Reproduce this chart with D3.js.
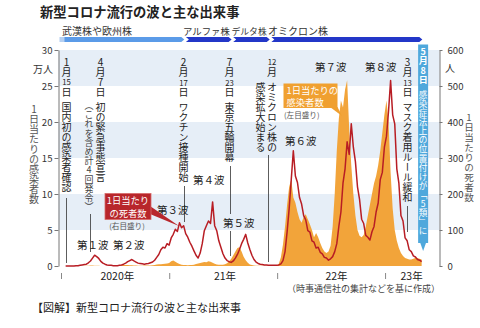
<!DOCTYPE html>
<html><head><meta charset="utf-8">
<script src="https://cdn.jsdelivr.net/npm/d3@7"></script>
<style>
html,body{margin:0;padding:0;background:#fff;}
svg{display:block;font-family:'Noto Sans CJK JP','Noto Sans',sans-serif;}
.vt{writing-mode:vertical-rl;}
.vtu{writing-mode:vertical-rl;text-orientation:upright;}
</style></head><body>
<svg id="c" width="480" height="328"></svg>
<script>
// ---------------- data ----------------
const weekStart = "2020-01-15";           // first weekly sample
// daily new cases (万人), one value per week
const cases = [0,0,0,0,0,0,0,0.01,0.01,0.02,
 0.03,0.05,0.06,0.06,0.05,0.03,0.02,0.01,0.01,0.01,
 0.01,0.01,0.02,0.03,0.03,0.05,0.08,0.1,0.13,0.15,
 0.13,0.11,0.09,0.07,0.06,0.05,0.05,0.05,0.06,0.06,
 0.07,0.08,0.1,0.14,0.2,0.24,0.25,0.28,0.3,0.34,
 0.4,0.65,0.75,0.6,0.42,0.28,0.19,0.15,0.13,0.12,
 0.13,0.15,0.19,0.27,0.33,0.43,0.5,0.55,0.52,0.65,
 0.6,0.45,0.32,0.22,0.16,0.17,0.19,0.24,0.38,0.65,
 1.0,1.5,2.0,2.5,2.6,2.0,1.3,0.8,0.45,0.22,
 0.13,0.07,0.04,0.03,0.02,0.02,0.02,0.02,0.02,0.02,
 0.03,0.03,0.07,0.3,1.2,3.0,5.5,8.5,11,12,
 9.5,8.8,7.5,6.5,6.0,6.8,7.2,6.5,5.8,5.0,
 4.0,4.6,4.0,3.2,2.5,2.0,1.8,2.0,2.8,5.5,
 10,16,20.5,23,22,24.5,25.8,19,14,10,
 7,5,4.2,4.0,4.3,5.5,7,8.5,10,11.5,
 12.5,14,16,18.5,21,23,20,13,8,5,
 3.5,2.5,1.8,1.4,1.1,1.0,0.9,0.9,1.0,1.1,
 1.1,1.0,0.9];
// daily deaths (人), one value per week
const deaths = [0,0,0,0,0,1,1,2,3,4,
 5,9,14,22,30,26,21,13,8,5,
 3,2,2,1,1,1,2,3,5,8,
 12,15,18,14,11,8,7,6,5,6,
 7,9,11,16,24,32,45,52,50,62,
 58,78,88,102,96,120,106,112,90,80,
 66,55,42,30,22,36,62,98,112,125,
 118,178,112,98,70,52,34,22,15,12,
 10,14,22,32,46,62,74,88,64,46,
 30,18,11,7,5,4,3,3,2,2,
 2,2,2,3,6,15,40,95,160,240,
 320,250,232,190,172,140,128,98,94,70,
 66,50,52,38,34,24,22,16,20,26,
 40,62,110,150,230,270,345,310,395,330,
 290,220,185,130,118,85,80,72,95,110,
 150,175,240,260,330,360,430,515,420,395,
 270,230,140,125,78,70,45,40,28,25,
 18,16,12];
const leftTicks = [0,5,10,15,20,25,30];
const rightTicks = [0,100,200,300,400,500,600];
const yearTicks = ["2020-01-01","2021-01-01","2022-01-01","2023-01-01"];
const yearLabels = ["2020年","21年","22年","23年"];
const yearLabelDates = ["2020-07-08","2021-07-07","2022-07-19","2023-03-30"];
const variantNames = ["武漢株や欧州株","アルファ株","デルタ株","オミクロン株"];
const variantStarts = ["2020-01-01","2021-02-22","2021-08-01","2021-12-08"];
const variantEnd = "2023-05-08";
const waveNames = ["第１波","第２波","第３波","第４波","第５波","第６波","第７波","第８波"];
const eventDates = ["2020-01-15","2020-04-07","2021-02-17","2021-07-23","2021-12-01","2023-03-13","2023-05-08"];
const eventTexts = ["1月15日_国内初の感染者確認","4月7日_初の緊急事態宣言","2月17日_ワクチン接種開始",
  "7月23日_東京五輪開幕","12月_オミクロン株の","3月13日_マスク着用ルール緩和","感染症法上の位置付けが「5類」に"];

// ---------------- setup ----------------
const parse = d3.timeParse("%Y-%m-%d");
const svg = d3.select("#c");
const x = d3.scaleTime().domain([parse("2020-01-01"), parse("2024-01-01")]).range([61.5, 493.5]);
const yL = d3.scaleLinear().domain([0,30]).range([266,50]);
const yR = d3.scaleLinear().domain([0,600]).range([266,50]);
const t0 = parse(weekStart);
const caseData = cases.map((v,i)=>({date:d3.timeDay.offset(t0,7*i), v}));
const deathData = deaths.map((v,i)=>({date:d3.timeDay.offset(t0,7*i), v}));

// title
svg.append("text").attr("x",40).attr("y",16.5).attr("font-size",13.3).attr("font-weight","bold")
  .attr("fill","#222").text("新型コロナ流行の波と主な出来事");

// variant bar
const vb = svg.append("g");
const by0=37, by1=42, bym=39.5;
const labelX=[62,183,231.5,268], labelSize=[10,9.4,8.8,10];
variantStarts.forEach((s,i)=>{
  const x0 = x(parse(s)) + (i?0.8:0), x1 = (i<variantStarts.length-1 ? x(parse(variantStarts[i+1])) : x(parse(variantEnd))) - 0.8;
  const pts = [[x0,by0],[x1-3,by0],[x1,bym],[x1-3,by1],[x0,by1]];
  if(i) pts.push([x0+3,bym]);
  vb.append("polygon").attr("points",pts.map(p=>p.join(",")).join(" "))
    .attr("fill", i===0 ? "#5b9be8" : "#2337c8");
  vb.append("text").attr("x", labelX[i]).attr("y",34.5).attr("font-size",labelSize[i])
    .attr("fill","#333").text(variantNames[i]);
});
vb.append("rect").attr("x",x(parse(variantStarts[0]))-2).attr("y",by0).attr("width",5).attr("height",by1-by0).attr("fill","#b5d0f2");

// background bands
const bands = svg.append("g");
for(let k=0;k<leftTicks.length-1;k++){
  if(k%2===1){
    bands.append("rect").attr("x",58.5).attr("width",439.5-58.5)
      .attr("y",yL(leftTicks[k+1])).attr("height",yL(leftTicks[k])-yL(leftTicks[k+1]))
      .attr("fill","#e6eef7");
  }
}

// cases area
svg.append("path").datum(caseData)
  .attr("d", d3.area().x(d=>x(d.date)).y0(yL(0)).y1(d=>yL(d.v)))
  .attr("fill","#f2a43a");
// deaths line
svg.append("path").datum(deathData)
  .attr("d", d3.line().x(d=>x(d.date)).y(d=>yR(d.v)))
  .attr("fill","none").attr("stroke","#b81d24").attr("stroke-width",1.5).attr("stroke-linejoin","round");

// axes
const gL = svg.append("g").attr("transform","translate(58.5,0)")
  .call(d3.axisLeft(yL).tickValues(leftTicks).tickSize(4).tickSizeOuter(0).tickPadding(2));
const gR = svg.append("g").attr("transform","translate(439.5,0)")
  .call(d3.axisRight(yR).tickValues(rightTicks).tickSize(3).tickSizeOuter(0).tickPadding(5));
[gL,gR].forEach(g=>{
  g.select(".domain").attr("stroke","#777");
  g.selectAll(".tick line").attr("stroke","#777");
  g.selectAll(".tick text").attr("font-size",9.6).attr("fill","#333").attr("font-family","'Noto Sans CJK JP',sans-serif");
});
svg.append("text").attr("x",53).attr("y",73).attr("text-anchor","end").attr("font-size",10).attr("fill","#333").text("万人");
svg.append("text").attr("x",445).attr("y",72).attr("font-size",10).attr("fill","#333").text("人");

// year ticks & labels
yearTicks.forEach(d=>{
  svg.append("line").attr("x1",x(parse(d))).attr("x2",x(parse(d))).attr("y1",273).attr("y2",279)
    .attr("stroke","#888").attr("stroke-width",1);
});
yearLabels.forEach((l,i)=>{
  svg.append("text").attr("x",x(parse(yearLabelDates[i]))).attr("y",280).attr("text-anchor","middle")
    .attr("font-size",10.5).attr("fill","#222").text(l);
});

// vertical text helper: one vertical text per character cell; 2-digit runs set horizontally
function toCells(s){const out=[];const re=/\d\d|_|./gu;let m;while((m=re.exec(s)))out.push(m[0]==="_"?"":m[0]);return out;}
function vcol(cx,y0,str,o={}){
  const size=o.size||10, step=o.step||10, gap=o.gap||5, fill=o.fill||"#222", weight=o.weight||"normal";
  const g=svg.append("g").attr("fill",fill).attr("font-weight",weight);
  let y=y0;
  for(const c of toCells(str)){
    if(c===""){y+=gap;continue;}
    if(/^\d\d$/.test(c)){
      g.append("text").attr("x",cx).attr("y",y+step/2+size*0.3)
        .attr("text-anchor","middle").attr("font-size",size*0.82)
        .attr("textLength",size*0.86).attr("lengthAdjust","spacingAndGlyphs").text(c);
    } else {
      g.append("text").attr("class",/^\d$/.test(c)?"vtu":"vt").attr("x",cx).attr("y",y+(step-size)/2)
        .attr("font-size",size).text(c);
    }
    y+=step;
  }
}
function vline(date,ya,yb){
  const xx=Math.round(x(parse(date)))+0.5;
  svg.append("line").attr("x1",xx).attr("x2",xx).attr("y1",ya).attr("y2",yb).attr("stroke","#333").attr("stroke-width",0.8);
}

// axis titles
vcol(34,104,"1日当たりの感染者数",{fill:"#555"});
vcol(469,112,"1日当たりの死者数",{fill:"#555",size:9.6});

// event annotations
vcol(66.5,57,eventTexts[0]);            vline(eventDates[0],198,263);
vcol(100.5,57,eventTexts[1]);
vcol(89,101,"（これを含め計4回発令）",{size:9,step:9.2,fill:"#444"}); vline(eventDates[1],214,252);
vcol(183.5,57.5,eventTexts[2]);         vline(eventDates[2],186,222);
vcol(229.5,57.5,eventTexts[3]);         vline(eventDates[3],166,214); vline(eventDates[3],231,256);
vcol(272,57,eventTexts[4]);
vcol(260.5,82,"感染拡大始まる");       vline(eventDates[4],155,262);
vcol(407.5,57.5,eventTexts[5]);         vline(eventDates[5],206,232);

// blue box (5月8日)
const bx=x(parse(eventDates[6]));
svg.append("rect").attr("x",bx-5).attr("y",44.5).attr("width",10).attr("height",198.5).attr("fill","#4fa8dc");
svg.append("polygon").attr("points",`${bx-3},242.5 ${bx+3},242.5 ${bx},251`).attr("fill","#4fa8dc");
vcol(bx,46.5,"5月8日",{size:9,step:9.5,fill:"#fff",weight:"bold"});
vcol(bx,90,eventTexts[6],{size:8.6,step:9.1,fill:"#fff"});

// wave labels
const wavePos=[[77,249],[113,249],[157,214],[193,184],[223,227],[285,145],[315,71],[365,71]];
waveNames.forEach((w,i)=>{
  svg.append("text").attr("x",wavePos[i][0]).attr("y",wavePos[i][1]).attr("font-size",10.5)
    .attr("fill","#222").text(w);
});

// deaths callout
svg.append("polygon").attr("points","150,206 150,214 179,226").attr("fill","#b8262b");
svg.append("rect").attr("x",105).attr("y",193.5).attr("width",46).attr("height",26).attr("fill","#b8262b")
  .attr("stroke","#d86a6a").attr("stroke-width",0.8);
svg.append("text").attr("x",128).attr("y",204).attr("text-anchor","middle").attr("font-size",9.3).attr("fill","#fff").text("1日当たり");
svg.append("text").attr("x",128).attr("y",216.5).attr("text-anchor","middle").attr("font-size",9.3).attr("fill","#fff").text("の死者数");
svg.append("text").attr("x",127).attr("y",228.5).attr("text-anchor","middle").attr("font-size",7.6).attr("fill","#555").text("(右目盛り)");

// cases callout
svg.append("polygon").attr("points","330,107 337.5,107 342,116").attr("fill","#f0a030");
svg.append("rect").attr("x",283.5).attr("y",83.5).attr("width",54).attr("height",24.5).attr("fill","#f0a030");
svg.append("text").attr("x",286.5).attr("y",93.5).attr("font-size",9.3).attr("fill","#fff").text("1日当たりの");
svg.append("text").attr("x",286.5).attr("y",106).attr("font-size",9.3).attr("fill","#fff").text("感染者数");
svg.append("text").attr("x",284).attr("y",118).attr("font-size",7.6).attr("fill","#555").text("(左目盛り)");

// source & footer
svg.append("text").attr("x",287).attr("y",292).attr("font-size",9).attr("fill","#444").text("（時事通信社の集計などを基に作成）");
svg.append("text").attr("x",32).attr("y",312).attr("font-size",11).attr("fill","#222").text("【図解】新型コロナ流行の波と主な出来事");
</script></body></html>
